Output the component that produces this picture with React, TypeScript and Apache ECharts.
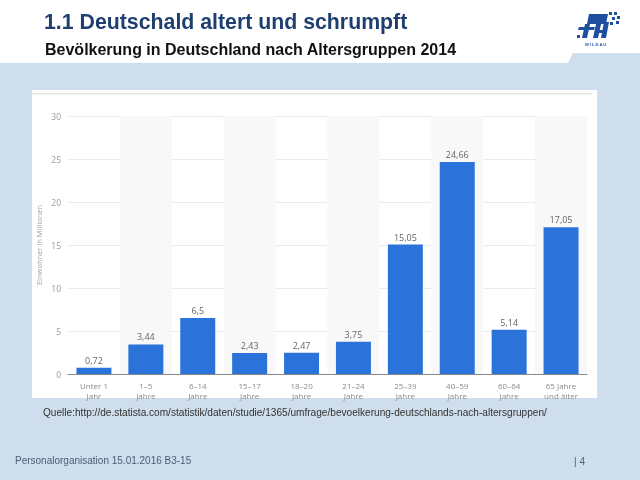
import React, { useEffect, useRef } from "react";
import * as echarts from "echarts";

const categories = [
  "Unter 1\nJahr",
  "1–5\nJahre",
  "6–14\nJahre",
  "15–17\nJahre",
  "18–20\nJahre",
  "21–24\nJahre",
  "25–39\nJahre",
  "40–59\nJahre",
  "60–64\nJahre",
  "65 Jahre\nund älter",
];
const values = [0.72, 3.44, 6.5, 2.43, 2.47, 3.75, 15.05, 24.66, 5.14, 17.05];
const yTicks = { min: 0, max: 30, interval: 5 };

const titleText = "1.1 Deutschald altert und schrumpft";
const subtitleText = "Bevölkerung in Deutschland nach Altersgruppen 2014";
const yAxisName = "Einwohner in Millionen";
const sourceText =
  "Quelle:http://de.statista.com/statistik/daten/studie/1365/umfrage/bevoelkerung-deutschlands-nach-altersgruppen/";
const footerText = "Personalorganisation 15.01.2016 B3-15";
const pageText = "| 4";

export default function App() {
  const ref = useRef<HTMLDivElement>(null);
  useEffect(() => {
    document.body.style.margin = "0";
    const chart = echarts.init(ref.current!, undefined, { renderer: "svg" });
    const logoBlue = "#1d4f9e";
    const pix = [
      [609, 12],
      [614, 12],
      [617, 16],
      [612, 17],
      [616, 21],
      [610, 22],
    ];
    chart.setOption({
      animation: false,
      graphic: [
        { type: "rect", z: -10, shape: { x: 0, y: 0, width: 640, height: 480 }, style: { fill: "#cfdeed" } },
        {
          type: "polygon",
          z: -9,
          shape: { points: [[0, 0], [640, 0], [640, 53], [573, 53], [568, 63], [0, 63]] },
          style: { fill: "#ffffff" },
        },
        { type: "rect", z: -8, shape: { x: 32, y: 90, width: 565, height: 308 }, style: { fill: "#ffffff" } },
        { type: "rect", z: -7, shape: { x: 32, y: 93, width: 560, height: 1.5 }, style: { fill: "#e6e6e6" } },
        {
          type: "text",
          x: 44,
          y: 11,
          style: { text: titleText, fill: "#1f3f70", font: "bold 21.3px 'Liberation Sans', Arial, sans-serif" },
        },
        {
          type: "text",
          x: 45,
          y: 41,
          style: { text: subtitleText, fill: "#111111", font: "bold 16px 'Liberation Sans', Arial, sans-serif" },
        },
        {
          type: "text",
          x: 43,
          y: 407,
          style: { text: sourceText, fill: "#333333", font: "10.1px 'Liberation Sans Narrow', 'Liberation Sans', sans-serif" },
        },
        {
          type: "text",
          x: 15,
          y: 455,
          style: { text: footerText, fill: "#4a5d75", font: "10px 'Liberation Sans Narrow', 'Liberation Sans', sans-serif" },
        },
        {
          type: "text",
          x: 574,
          y: 456,
          style: { text: pageText, fill: "#4a5d75", font: "10px 'Liberation Sans', sans-serif" },
        },
        // logo
        { type: "polygon", shape: { points: [[589, 14], [608, 14], [606, 24], [587, 24]] }, style: { fill: logoBlue } },
        { type: "polygon", shape: { points: [[579, 27], [595, 27], [594, 30], [578, 30]] }, style: { fill: logoBlue } },
        { type: "polygon", shape: { points: [[585, 24], [590, 24], [587, 38], [582, 38]] }, style: { fill: logoBlue } },
        { type: "polygon", shape: { points: [[596, 24], [601, 24], [598, 38], [593, 38]] }, style: { fill: logoBlue } },
        { type: "polygon", shape: { points: [[604, 22], [609, 22], [606, 38], [601, 38]] }, style: { fill: logoBlue } },
        { type: "polygon", shape: { points: [[597, 30], [606, 30], [605, 33], [596, 33]] }, style: { fill: logoBlue } },
        { type: "rect", shape: { x: 577, y: 35, width: 3, height: 3 }, style: { fill: logoBlue } },
        ...pix.map(([x, y]) => ({ type: "rect", shape: { x, y, width: 3, height: 3 }, style: { fill: logoBlue } })),
        {
          type: "text",
          x: 585,
          y: 42,
          style: { text: "W I L D A U", fill: logoBlue, font: "bold 4px 'Liberation Sans', sans-serif" },
        },
      ],
      grid: { left: 68, right: 53, top: 116, bottom: 106, containLabel: false },
      xAxis: {
        type: "category",
        data: categories,
        axisLine: { show: true, lineStyle: { color: "#888888", width: 1 } },
        axisTick: { show: false },
        axisLabel: {
          color: "#8a8a8a",
          fontSize: 8,
          lineHeight: 10,
          margin: 6,
          interval: 0,
          fontFamily: "'Open Sans', sans-serif",
        },
        splitArea: { show: true, areaStyle: { color: ["rgba(255,255,255,0)", "#f8f8f8"] } },
      },
      yAxis: {
        type: "value",
        min: yTicks.min,
        max: yTicks.max,
        interval: yTicks.interval,
        name: yAxisName,
        nameLocation: "middle",
        nameGap: 25,
        nameMoveOverlap: false,
        nameTextStyle: { color: "#9a9a9a", fontSize: 7.5, fontFamily: "'Open Sans', sans-serif" },
        axisLine: { show: false },
        axisTick: { show: false },
        axisLabel: { color: "#9a9a9a", fontSize: 8.5, margin: 7, fontFamily: "'Open Sans', sans-serif" },
        splitLine: { lineStyle: { color: "#ececec", width: 1 } },
      },
      series: [
        {
          type: "bar",
          data: values,
          barWidth: 35,
          itemStyle: { color: "#2b73d8" },
          label: {
            show: true,
            position: "top",
            distance: 3,
            color: "#666666",
            fontSize: 9,
            fontFamily: "'Open Sans', sans-serif",
            formatter: (p: any) => String(p.value).replace(".", ","),
          },
        },
      ],
    });
    return () => chart.dispose();
  }, []);
  return <div ref={ref} style={{ position: "fixed", left: 0, top: 0, width: 640, height: 480 }} />;
}
